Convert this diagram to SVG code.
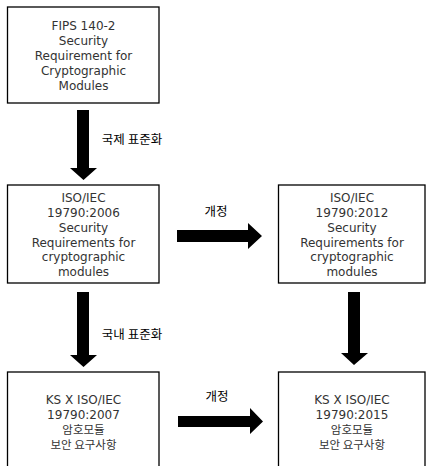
<svg xmlns="http://www.w3.org/2000/svg" width="426" height="466" viewBox="0 0 426 466">
<style>
.box{fill:#fff;stroke:#000;stroke-width:1.3}
.t{font-family:"DejaVu Sans","Noto Sans CJK KR",sans-serif;font-size:12px;fill:#333;text-anchor:middle}
.k{font-family:"Noto Sans CJK KR",sans-serif;font-size:11.5px;fill:#333;text-anchor:middle}
.lbl{font-family:"Noto Sans CJK KR",sans-serif;font-size:12.5px;fill:#000;text-anchor:middle}
.arr{fill:#000}
</style>
<rect width="426" height="466" fill="#fff"/>
<g id="fips">
<rect class="box" x="7.5" y="7" width="151.5" height="96"/>
<text class="t" x="83.5" y="29.5">FIPS 140-2</text>
<text class="t" x="83.5" y="45">Security</text>
<text class="t" x="83.5" y="60">Requirement for</text>
<text class="t" x="83.5" y="75">Cryptographic</text>
<text class="t" x="83.5" y="90">Modules</text>
</g>
<g id="iso2006">
<rect class="box" x="7.5" y="185" width="151.5" height="98"/>
<text class="t" x="83.5" y="202">ISO/IEC</text>
<text class="t" x="83.5" y="217">19790:2006</text>
<text class="t" x="83.5" y="232">Security</text>
<text class="t" x="83.5" y="247">Requirements for</text>
<text class="t" x="83.5" y="261">cryptographic</text>
<text class="t" x="83.5" y="276">modules</text>
</g>
<g id="iso2012">
<rect class="box" x="278.5" y="185" width="146.5" height="98"/>
<text class="t" x="352" y="202">ISO/IEC</text>
<text class="t" x="352" y="217">19790:2012</text>
<text class="t" x="352" y="232">Security</text>
<text class="t" x="352" y="247">Requirements for</text>
<text class="t" x="352" y="261">cryptographic</text>
<text class="t" x="352" y="276">modules</text>
</g>
<g id="ks2007">
<rect class="box" x="7.5" y="372" width="151.5" height="100"/>
<text class="t" x="83.5" y="404">KS X ISO/IEC</text>
<text class="t" x="83.5" y="419">19790:2007</text>
<text class="k" x="83.5" y="433.5">암호모듈</text>
<text class="k" x="83.5" y="448.5">보안 요구사항</text>
</g>
<g id="ks2015">
<rect class="box" x="278.5" y="372" width="146.5" height="100"/>
<text class="t" x="352" y="404">KS X ISO/IEC</text>
<text class="t" x="352" y="419">19790:2015</text>
<text class="k" x="352" y="433.5">암호모듈</text>
<text class="k" x="352" y="448.5">보안 요구사항</text>
</g>
<g id="connectors">
<polygon class="arr" points="77,110 89,110 89,168 97,168 83.5,180 70,168 77,168"/>
<text class="lbl" x="132" y="144">국제 표준화</text>
<polygon class="arr" points="77,292 89,292 89,355 97,355 83.5,367 70,355 77,355"/>
<text class="lbl" x="132" y="339">국내 표준화</text>
<polygon class="arr" points="348,292 360,292 360,353 368,353 354,365 341,353 348,353"/>
<polygon class="arr" points="177,230 248,230 248,223 262,236 248,249 248,242 177,242"/>
<text class="lbl" x="216" y="216">개정</text>
<polygon class="arr" points="178,416 250,416 250,408 263,421.5 250,434 250,427 178,427"/>
<text class="lbl" x="217" y="401">개정</text>
</g>
</svg>
